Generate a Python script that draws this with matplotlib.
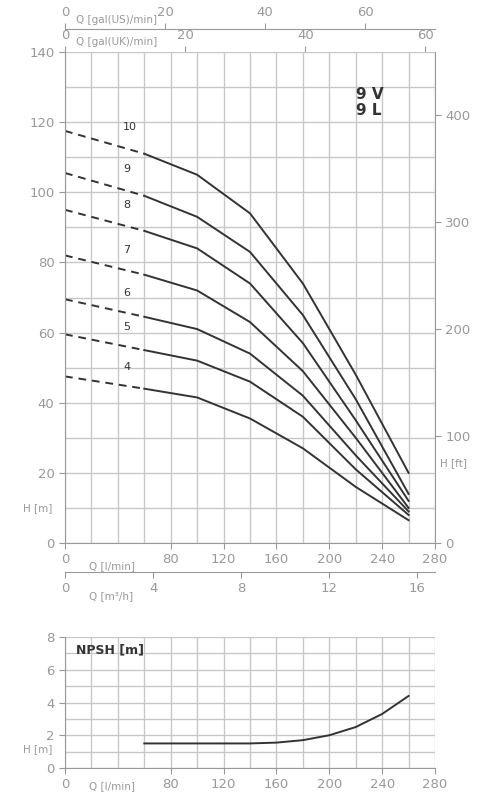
import matplotlib
matplotlib.use("Agg")
import matplotlib.pyplot as plt
import numpy as np

q_dash = [0, 60]
q = [60, 100, 140, 180, 220, 260]
stages = ["10", "9", "8", "7", "6", "5", "4"]
h0 = [117.5, 105.5, 95, 82, 69.5, 59.5, 47.5]
curves = [
    [111, 105, 94, 74, 48, 20],
    [99, 93, 83, 65, 41, 14],
    [89, 84, 74, 57, 35, 12],
    [76.5, 72, 63, 49, 30, 10],
    [64.5, 61, 54, 42, 25, 9],
    [55, 52, 46, 36, 21, 8],
    [44, 41.5, 35.5, 27, 16, 6.5],
]
npsh_q = [60, 100, 140, 160, 180, 200, 220, 240, 260]
npsh_h = [1.5, 1.5, 1.5, 1.55, 1.7, 2.0, 2.5, 3.3, 4.4]

G = "#999999"
L = "#c8c8c8"
C = "#333333"
fig = plt.figure(figsize=(5, 8), dpi=100)

def style(ax):
    for s in ax.spines.values():
        s.set_visible(False)
    ax.spines["left"].set_visible(True)
    ax.spines["bottom"].set_visible(True)
    ax.spines["left"].set_color(G)
    ax.spines["bottom"].set_color(G)
    ax.tick_params(colors=G, labelsize=9.5, length=4)
    ax.set_xlim(0, 280)
    ax.grid(True, which="both", color=L, lw=1)
    ax.set_axisbelow(True)

ax = fig.add_axes([0.13, 0.32125, 0.74, 0.61375])
style(ax)
ax.set_ylim(0, 140)
ax.set_xticks(range(0, 281, 20), minor=True)
ax.set_xticks([0, 80, 120, 160, 200, 240, 280])
ax.set_yticks(range(0, 141, 20))
ax.set_yticks(range(0, 141, 10), minor=True)
ax.tick_params(which="minor", length=0)
for name, a, c in zip(stages, h0, curves):
    ax.plot(q_dash, [a, c[0]], ls=(0, (4, 3)), color=C, lw=1.4)
    ax.plot(q, c, color=C, lw=1.4)
    ax.text(44, (a + c[0]) / 2 + 3.5, name, fontsize=8, color=C)
ax.text(220, 130, "9 V\n9 L", fontsize=11, fontweight="bold", color=C, va="top", linespacing=1.1)
ax.text(-32, 9, "H [m]", fontsize=7.5, color=G)
ax.text(18, -7.5, "Q [l/min]", fontsize=7.5, color=G)

sec_uk = ax.secondary_xaxis("top", functions=(lambda x: x / 4.546, lambda x: x * 4.546))
sec_uk.set_xticks([0, 20, 40, 60])
sec_uk.tick_params(colors=G, labelsize=9.5, length=4)
sec_uk.spines["top"].set_visible(False)
ax.text(8, 142, "Q [gal(UK)/min]", fontsize=7.5, color=G)

sec_us = ax.secondary_xaxis(1.047, functions=(lambda x: x / 3.785, lambda x: x * 3.785))
sec_us.set_xticks([0, 20, 40, 60])
sec_us.tick_params(colors=G, labelsize=9.5, length=4)
sec_us.spines["top"].set_color(G)
ax.text(8, 148.3, "Q [gal(US)/min]", fontsize=7.5, color=G)

sec_m3 = ax.secondary_xaxis(-0.059, functions=(lambda x: x * 0.06, lambda x: x / 0.06))
sec_m3.set_xticks([0, 4, 8, 12, 16])
sec_m3.tick_params(colors=G, labelsize=9.5, length=4)
sec_m3.spines["bottom"].set_color(G)
ax.text(18, -16, "Q [m³/h]", fontsize=7.5, color=G)

sec_ft = ax.secondary_yaxis("right", functions=(lambda m: m * 3.2808, lambda f: f / 3.2808))
sec_ft.set_yticks([0, 100, 200, 300, 400])
sec_ft.tick_params(colors=G, labelsize=9.5, length=4)
sec_ft.spines["right"].set_color(G)
ax.text(284, 22, "H [ft]", fontsize=7.5, color=G)

ax2 = fig.add_axes([0.13, 0.04, 0.74, 0.16375])
style(ax2)
ax2.set_ylim(0, 8)
ax2.set_xticks(range(0, 281, 20), minor=True)
ax2.set_xticks([0, 80, 120, 160, 200, 240, 280])
ax2.set_yticks([0, 2, 4, 6, 8])
ax2.set_yticks(range(0, 9, 1), minor=True)
ax2.tick_params(which="minor", length=0)
ax2.plot(npsh_q, npsh_h, color=C, lw=1.4)
ax2.text(8, 7.0, "NPSH [m]", fontsize=9, fontweight="bold", color=C)
ax2.text(-32, 1.0, "H [m]", fontsize=7.5, color=G)
ax2.text(18, -1.3, "Q [l/min]", fontsize=7.5, color=G)

fig.savefig("out.png", dpi=100)
